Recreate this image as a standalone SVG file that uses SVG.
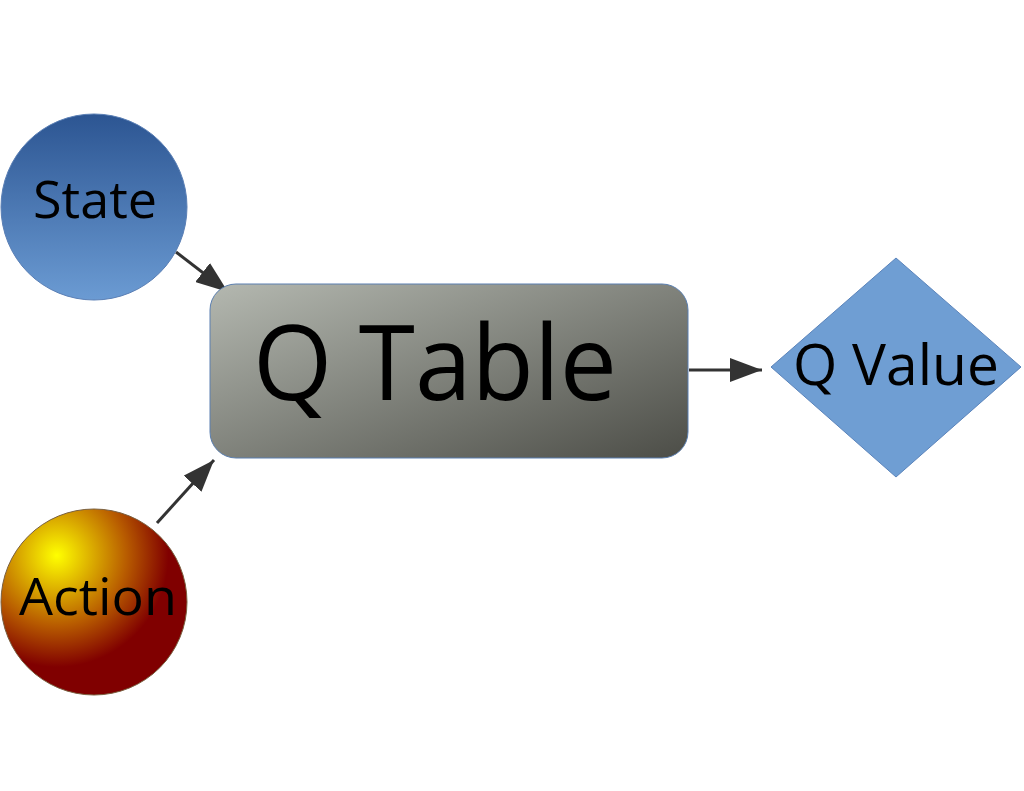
<svg xmlns="http://www.w3.org/2000/svg" width="1024" height="791" viewBox="0 0 1024 791">
<defs>
<linearGradient id="gs" x1="0" y1="0" x2="0" y2="1"><stop offset="0" stop-color="#2c5592"/><stop offset="1" stop-color="#6b9bd3"/></linearGradient>
<linearGradient id="gq" x1="0" y1="0" x2="1" y2="1"><stop offset="0" stop-color="#b4b8b0"/><stop offset="1" stop-color="#4c4d47"/></linearGradient>
<radialGradient id="ga" cx="0.3" cy="0.25" r="0.75"><stop offset="0" stop-color="#ffff00"/><stop offset="0.5" stop-color="#b85c00"/><stop offset="0.8" stop-color="#800000"/></radialGradient>
<marker id="ah" markerWidth="32" markerHeight="24" refX="32" refY="12" orient="auto" markerUnits="userSpaceOnUse" viewBox="0 0 32 24"><path d="M0,0 L32,12 L0,24 Z" fill="#333"/></marker>
<style>text{font-family:"Open Sans","Noto Sans",sans-serif;fill:#000;text-anchor:middle}.c{stroke:#333;stroke-width:3;fill:none;marker-end:url(#ah)}</style>
</defs>
<rect width="1024" height="791" fill="#fff"/>
<g id="connectors">
<path class="c" d="M176,252 L228,292"/>
<path class="c" d="M157,523 L214,460"/>
<path class="c" d="M689,370 L762,370"/>
</g>
<g id="state"><circle cx="94" cy="207" r="93" fill="url(#gs)" stroke="#5a7fb5"/><text x="95" y="218" font-size="52" textLength="124" lengthAdjust="spacingAndGlyphs">State</text></g>
<g id="action"><circle cx="94" cy="602" r="93" fill="url(#ga)" stroke="#7a6040"/><text x="98" y="615" font-size="52" textLength="158" lengthAdjust="spacingAndGlyphs">Action</text></g>
<g id="qtable"><rect x="210" y="284" width="478" height="174" rx="26" fill="url(#gq)" stroke="#5b7fb0"/><text x="435" y="400" font-size="104" textLength="364" lengthAdjust="spacingAndGlyphs">Q Table</text></g>
<g id="qvalue"><polygon points="896,258 1021,367 896,477 771,367" fill="#6f9ed3" stroke="#5b84bb"/><text x="896" y="385" font-size="56" textLength="206" lengthAdjust="spacingAndGlyphs">Q Value</text></g>
</svg>
